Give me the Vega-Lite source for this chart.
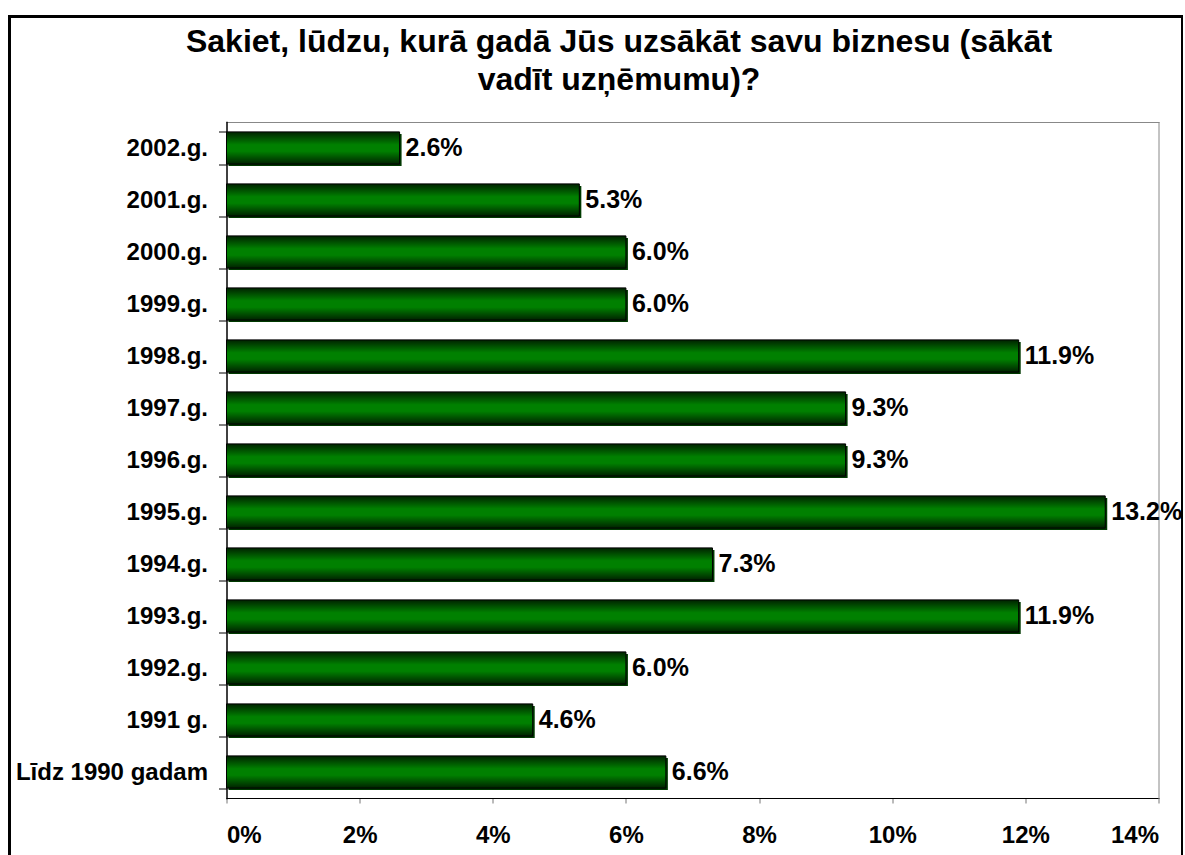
{
  "$schema": "https://vega.github.io/schema/vega-lite/v6.json",
  "autosize": "none",
  "padding": {"left": 9.5, "top": 16.5, "right": 0, "bottom": -41.5},
  "width": 1173,
  "height": 880,
  "background": "white",
  "title": {
    "text": ["Sakiet, lūdzu, kurā gadā Jūs uzsākāt savu biznesu (sākāt", "vadīt uzņēmumu)?"],
    "font": "Liberation Sans",
    "fontSize": 32,
    "fontWeight": "bold",
    "color": "black",
    "anchor": "middle",
    "frame": "group",
    "baseline": "top",
    "lineHeight": 38,
    "offset": 0,
    "dx": 23,
    "dy": 92
  },
  "data": {
    "values": [
      {"year": "2002.g.", "share": 0.026},
      {"year": "2001.g.", "share": 0.053},
      {"year": "2000.g.", "share": 0.060},
      {"year": "1999.g.", "share": 0.060},
      {"year": "1998.g.", "share": 0.119},
      {"year": "1997.g.", "share": 0.093},
      {"year": "1996.g.", "share": 0.093},
      {"year": "1995.g.", "share": 0.132},
      {"year": "1994.g.", "share": 0.073},
      {"year": "1993.g.", "share": 0.119},
      {"year": "1992.g.", "share": 0.060},
      {"year": "1991 g.", "share": 0.046},
      {"year": "Līdz 1990 gadam", "share": 0.066}
    ]
  },
  "layer": [
    {
      "mark": {"type": "bar", "color": "#003a00", "xOffset": 2, "yOffset": 2},
      "encoding": {
        "x": {
          "field": "share", "type": "quantitative",
          "scale": {"domain": [0, 0.14], "range": [217, 1149], "nice": false},
          "axis": {"orient": "top", "offset": -105.5, "labels": false, "ticks": false, "grid": false, "title": null, "domainColor": "#888888", "domainWidth": 1}
        },
        "y": {
          "field": "year", "type": "nominal", "sort": null,
          "scale": {"range": [105.5, 781.5], "paddingInner": 0.38, "paddingOuter": 0.19},
          "axis": {"orient": "right", "offset": -24, "labels": false, "ticks": false, "grid": false, "title": null, "domainColor": "#888888", "domainWidth": 1}
        }
      }
    },
    {
      "mark": {
        "type": "bar",
        "stroke": "black",
        "strokeWidth": 1,
        "color": {
          "gradient": "linear", "x1": 0, "y1": 0, "x2": 0, "y2": 1,
          "stops": [
            {"offset": 0, "color": "#002200"},
            {"offset": 0.4, "color": "#008000"},
            {"offset": 0.6, "color": "#008000"},
            {"offset": 1, "color": "#002200"}
          ]
        }
      },
      "encoding": {
        "x": {
          "field": "share", "type": "quantitative",
          "axis": {"orient": "bottom", "offset": -98.5, "values": [0, 0.02, 0.04, 0.06, 0.08, 0.1, 0.12, 0.14], "format": ".0%", "grid": false, "title": null, "domainColor": "black", "domainWidth": 1, "tickColor": "#777777", "tickSize": 5, "labelPadding": 20, "labelFontSize": 24}
        },
        "y": {
          "field": "year", "type": "nominal", "sort": null,
          "axis": {"orient": "left", "offset": -217, "grid": false, "title": null, "domainColor": "black", "domainWidth": 1.5, "tickColor": "black", "tickSize": 8, "tickBand": "extent", "labelPadding": 11, "labelFontSize": 24, "labelLimit": 0}
        }
      }
    },
    {
      "mark": {"type": "text", "align": "left", "baseline": "middle", "dx": 6, "font": "Liberation Sans", "fontSize": 25, "fontWeight": "bold", "color": "black"},
      "encoding": {
        "x": {"field": "share", "type": "quantitative", "axis": null},
        "y": {"field": "year", "type": "nominal", "sort": null, "axis": null},
        "text": {"field": "share", "type": "quantitative", "format": ".1%"}
      }
    }
  ],
  "resolve": {"axis": {"x": "independent", "y": "independent"}},
  "config": {
    "view": {"stroke": "black", "strokeWidth": 3},
    "axis": {"labelFont": "Liberation Sans", "labelFontWeight": "bold", "labelColor": "black", "domainCap": "square"}
  }
}
